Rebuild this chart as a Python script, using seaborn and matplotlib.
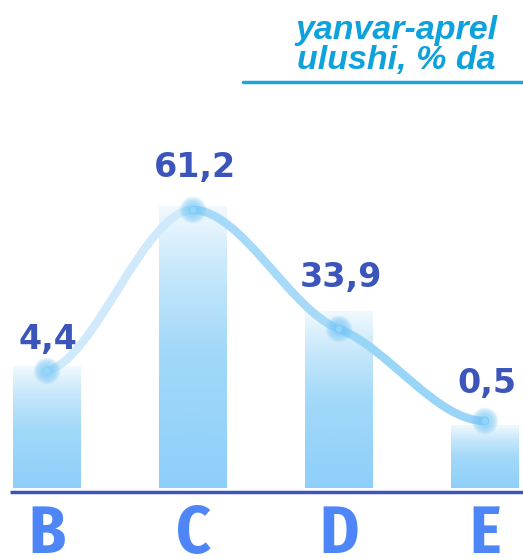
import numpy as np
import pandas as pd
import matplotlib
matplotlib.use("Agg")
import matplotlib.pyplot as plt
import seaborn as sns
from matplotlib.path import Path
from matplotlib.patches import PathPatch
from matplotlib.colors import LinearSegmentedColormap

# ---- data ----
categories = ["B", "C", "D", "E"]
share_labels = ["4,4", "61,2", "33,9", "0,5"]
bar_heights = [122, 282, 177, 63]        # drawn bar heights (picture units)
line_levels = [117, 278, 159, 67]        # curve levels at bar centres
label_levels = [148, 320, 211, 104]      # value label centres
curve_slopes = [35, 0, -55, 0]           # curve tangent at each point
title_lines = ["yanvar-aprel", "ulushi, % da"]

sns.set_theme(style="white")
plt.rcParams["font.family"] = ["DejaVu Sans"]

fig = plt.figure(figsize=(5.23, 5.59), dpi=100)
ax = fig.add_axes([0, 0, 1, 1])

df = pd.DataFrame({"cat": categories, "h": bar_heights})
sns.barplot(data=df, x="cat", y="h", ax=ax, width=0.46, color="#90cff8",
            saturation=1)

XL = (-47 / 146, (523 - 47) / 146)
YL = (-71, 488)
ax.axis("off")

# gradient fill inside each bar
cmap = LinearSegmentedColormap.from_list(
    "g", [(0, "#f1f9fe"), (0.22, "#c8e8fb"), (0.5, "#a3d9f9"), (1, "#8ecff9")])
grad = np.linspace(0, 1, 256).reshape(-1, 1)
for p in ax.patches:
    x0, y0 = p.get_x(), p.get_y()
    w, h = p.get_width(), p.get_height()
    p.set_facecolor("none")
    p.set_edgecolor("none")
    im = ax.imshow(grad, cmap=cmap, aspect="auto",
                   extent=[x0, x0 + w, y0, y0 + h], origin="upper", zorder=2)
    im.set_clip_path(p)
ax.set_xlim(*XL)
ax.set_ylim(*YL)

# smooth curve through points (cubic Bezier segments)
xs = np.arange(len(categories))
seg_colors = ["#d0eafb", "#a6daf8", "#98d5f7"]
for i in range(len(xs) - 1):
    dx = 1.0
    p0 = (xs[i], line_levels[i])
    p3 = (xs[i + 1], line_levels[i + 1])
    c1 = (xs[i] + dx / 3, line_levels[i] + curve_slopes[i] * dx / 3)
    c2 = (xs[i + 1] - dx / 3, line_levels[i + 1] - curve_slopes[i + 1] * dx / 3)
    path = Path([p0, c1, c2, p3],
                [Path.MOVETO, Path.CURVE4, Path.CURVE4, Path.CURVE4])
    ax.add_patch(PathPatch(path, facecolor="none", edgecolor=seg_colors[i],
                           lw=6, capstyle="round", zorder=3))

# soft glow at points
for s in np.linspace(380, 20, 14):
    ax.scatter(xs, line_levels, s=s, color="#74c8f7", alpha=0.08,
               edgecolors="none", zorder=4)
ax.scatter(xs, line_levels, s=22, color="#9adbfc", alpha=0.7,
           edgecolors="none", zorder=5)

# value labels
for x, lv, t in zip(xs, label_levels, share_labels):
    ax.text(x + 0.01, lv, t, ha="center", va="center", fontsize=24,
            fontweight="bold", color="#3b55bb", family="DejaVu Sans", zorder=6)

# baseline
ax.plot([-37 / 146, XL[1]], [-4, -4], color="#3b55bb", lw=2.5,
        solid_capstyle="butt", zorder=6)

# category letters
for x, c in zip(xs, categories):
    ax.text(x, -65, c, ha="center", va="baseline", fontsize=48,
            fontweight="bold", color="#4f86f7",
            family=["Fira Sans Condensed", "DejaVu Sans"])

# title
for yy, t in zip([30, 60], title_lines):
    fig.text(396 / 523, 1 - yy / 559, t, ha="center", va="center",
             fontsize=24.5, fontweight="bold", style="italic", color="#0ea2dd",
             family=["Liberation Sans", "DejaVu Sans"])
fig.add_artist(plt.Line2D([243 / 523, 1], [1 - 82 / 559, 1 - 82 / 559],
                          color="#1aa3e0", lw=2.5, transform=fig.transFigure))

fig.savefig("out.png", dpi=100)
